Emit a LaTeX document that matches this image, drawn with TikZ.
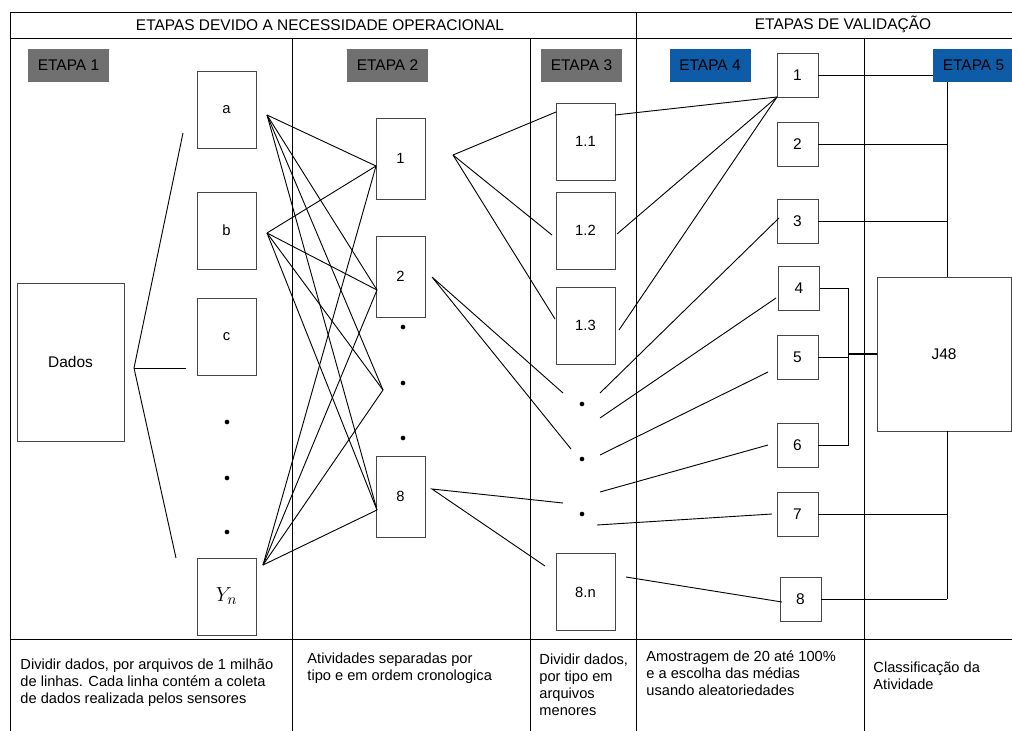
\documentclass[tikz,border=0pt]{standalone}
\usepackage{fontspec}
\setmainfont{Liberation Sans}
\usepackage{amsmath}
\definecolor{cinza}{RGB}{112,112,112}
\definecolor{azul}{RGB}{14,92,168}
\definecolor{borda}{RGB}{70,70,70}
\begin{document}
\begin{tikzpicture}[x=0.25mm,y=-0.25mm,line width=0.65pt,font=\fontsize{10.4}{12.2}\selectfont,
	caixa/.style={draw=borda, inner sep=0pt, font=\fontsize{10.5}{12}\selectfont},
	etapa/.style={inner sep=0pt, minimum width=20.25mm, minimum height=8.25mm, text=black, font=\fontsize{11}{13}\selectfont},
	ponto/.style={circle, fill=black, inner sep=0pt, minimum size=3.3pt},
	texto/.style={anchor=north west, align=left, inner sep=0pt}]
	
	\useasboundingbox (0,0) rectangle (1012,731);
	
	% tabela
	\draw (10,731) -- (10,12) -- (1012,12);
	\draw (10,38) -- (1012,38);
	\draw (10,639) -- (1012,639);
	\draw (292,38) -- (292,731);
	\draw (530,38) -- (530,731);
	\draw (636,12) -- (636,731);
	\draw (864,38) -- (864,731);
	\node[font=\fontsize{11}{13}\selectfont] (tit1) at (320,25) {ETAPAS DEVIDO A NECESSIDADE OPERACIONAL};
	\node[font=\fontsize{11}{13}\selectfont] (tit2) at (843,24) {ETAPAS DE VALIDAÇÃO};
	
	% etiquetas
	\node[etapa, fill=cinza] (e1) at (68.5,65.5) {ETAPA 1};
	\node[etapa, fill=cinza] (e2) at (387.5,65.5) {ETAPA 2};
	\node[etapa, fill=cinza] (e3) at (581.5,65.5) {ETAPA 3};
	\node[etapa, fill=azul] (e4) at (710,65.5) {ETAPA 4};
	\node[etapa, fill=azul] (e5) at (973.5,65.5) {ETAPA 5};
	
	% etapa 1
	\node[caixa, minimum width=26.75mm, minimum height=39.5mm, font=\fontsize{11}{13}\selectfont] (dados) at (70.5,362) {Dados};
	\node[caixa, minimum width=14.75mm, minimum height=19.25mm] (a) at (226.5,109.5) {a};
	\node[caixa, minimum width=14.75mm, minimum height=19.25mm] (b) at (226.5,230.5) {b};
	\node[caixa, minimum width=14.75mm, minimum height=19.25mm] (c) at (226.5,336.5) {c};
	\node[caixa, minimum width=14.75mm, minimum height=19.25mm, font=\fontsize{15}{17}\selectfont] (yn) at (226.5,596.5) {$Y_n$};
	\foreach \y [count=\i] in {422,478,532}
		\node[ponto] (pa\i) at (227,\y) {};
	
	% etapa 2
	\node[caixa, minimum width=12.25mm, minimum height=20.25mm] (s1) at (400.5,158.5) {1};
	\node[caixa, minimum width=12.25mm, minimum height=20.25mm] (s2) at (400.5,276.5) {2};
	\node[caixa, minimum width=12.25mm, minimum height=20.25mm] (s8) at (400.5,496.5) {8};
	\foreach \y [count=\i] in {327,383,438}
		\node[ponto] (pb\i) at (403,\y) {};
	
	% etapa 3
	\node[caixa, minimum width=14.75mm, minimum height=19.25mm] (s11) at (585.5,141.5) {1.1};
	\node[caixa, minimum width=14.75mm, minimum height=19.25mm] (s12) at (585.5,230.5) {1.2};
	\node[caixa, minimum width=14.75mm, minimum height=19.25mm] (s13) at (585.5,325.5) {1.3};
	\node[caixa, minimum width=14.75mm, minimum height=19.25mm] (s8n) at (585.5,592) {8.n};
	\foreach \y [count=\i] in {404,459,514}
		\node[ponto] (pc\i) at (582,\y) {};
	
	% etapa 4
	\foreach \n/\x/\y in {1/797.5/75.5, 2/797.5/144, 3/797.5/221, 4/799/288, 5/797.5/357.5, 6/797.5/445, 7/797.5/514, 8/800.5/599.5}
		\node[caixa, minimum width=10.25mm, minimum height=11mm, font=\fontsize{11}{13}\selectfont] (m\n) at (\x,\y) {\n};
	
	% etapa 5
	\node[caixa, minimum width=33.5mm, minimum height=38.5mm, font=\fontsize{11}{13}\selectfont] (j48) at (944,354) {J48};
	
	% pontos de ligacao
	\coordinate (fo) at (134,368);
	\coordinate (fa) at (183,133);
	\coordinate (fc) at (186,368);
	\coordinate (fy) at (176,558);
	\coordinate (ua) at (267,115);
	\coordinate (ub) at (267,233);
	\coordinate (uy) at (263,565);
	\coordinate (t1) at (376,166);
	\coordinate (t2) at (377,290);
	\coordinate (tm) at (383,390);
	\coordinate (t8) at (377,510);
	\coordinate (v1) at (453,155);
	\coordinate (v2) at (432,277);
	\coordinate (v8) at (432,489);
	\coordinate (w11) at (556,112);
	\coordinate (w12) at (552,235);
	\coordinate (w13) at (555,319);
	\coordinate (w21) at (563,393);
	\coordinate (w22) at (571,449);
	\coordinate (w81) at (563,503);
	\coordinate (w82) at (545,566);
	\coordinate (r11) at (615,115);
	\coordinate (r12) at (617,234);
	\coordinate (r13) at (619,330);
	\coordinate (r1) at (600,393);
	\coordinate (r2) at (600,418);
	\coordinate (r3) at (600,455);
	\coordinate (r4) at (600,492);
	\coordinate (r5) at (597,525);
	\coordinate (r6) at (626,577);
	\coordinate (q1) at (777,97);
	\coordinate (q3) at (779,218);
	\coordinate (q4) at (776,298);
	\coordinate (q5) at (768,372);
	\coordinate (q6) at (768,445);
	\coordinate (q7) at (772,514);
	\coordinate (q8) at (782,602);
	\coordinate (bus1) at (947,82);
	\coordinate (bus2) at (947,277);
	\coordinate (bus3) at (947,431);
	\coordinate (bus4) at (947,599);
	\coordinate (jb) at (848,354);
	
	% ligacoes
	\draw (fa) -- (fo) -- (fy);
	\draw (fo) -- (fc);
	\foreach \u in {ua,ub,uy}
		\foreach \t in {t1,t2,tm,t8}
			\draw (\u) -- (\t);
	\foreach \w in {w11,w12,w13}
		\draw (v1) -- (\w);
	\draw (w21) -- (v2) -- (w22);
	\draw (w81) -- (v8) -- (w82);
	\foreach \r in {r11,r12,r13}
		\draw (\r) -- (q1);
	\draw (r1) -- (q3);
	\draw (r2) -- (q4);
	\draw (r3) -- (q5);
	\draw (r4) -- (q6);
	\draw (r5) -- (q7);
	\draw (r6) -- (q8);
	\draw (m1.east) -- (m1.east -| e5.west);
	\draw (bus1) -- (bus2);
	\draw (bus3) -- (bus4);
	\foreach \n in {2,3,7,8}
		\draw (m\n.east) -- (m\n.east -| bus1);
	\draw (m4.east) -- (m4.east -| jb) -- (m6.east -| jb) -- (m6.east);
	\draw (m5.east) -- (m5.east -| jb);
	\draw[line width=1.3pt] (jb) -- (j48.west);
	
	% descricoes
	\node[texto] (d1) at (20,658) {Dividir dados, por arquivos de 1 milhão\\de linhas. Cada linha contém a coleta\\de dados realizada pelos sensores};
	\node[texto] (d2) at (307,652) {Atividades separadas por\\tipo e em ordem cronologica};
	\node[texto] (d3) at (539,653) {Dividir dados,\\por tipo em\\arquivos\\menores};
	\node[texto] (d4) at (646,650) {Amostragem de 20 até 100\%\\e a escolha das médias\\usando aleatoriedades};
	\node[texto] (d5) at (873,661) {Classificação da\\Atividade};
\end{tikzpicture}
\end{document}
